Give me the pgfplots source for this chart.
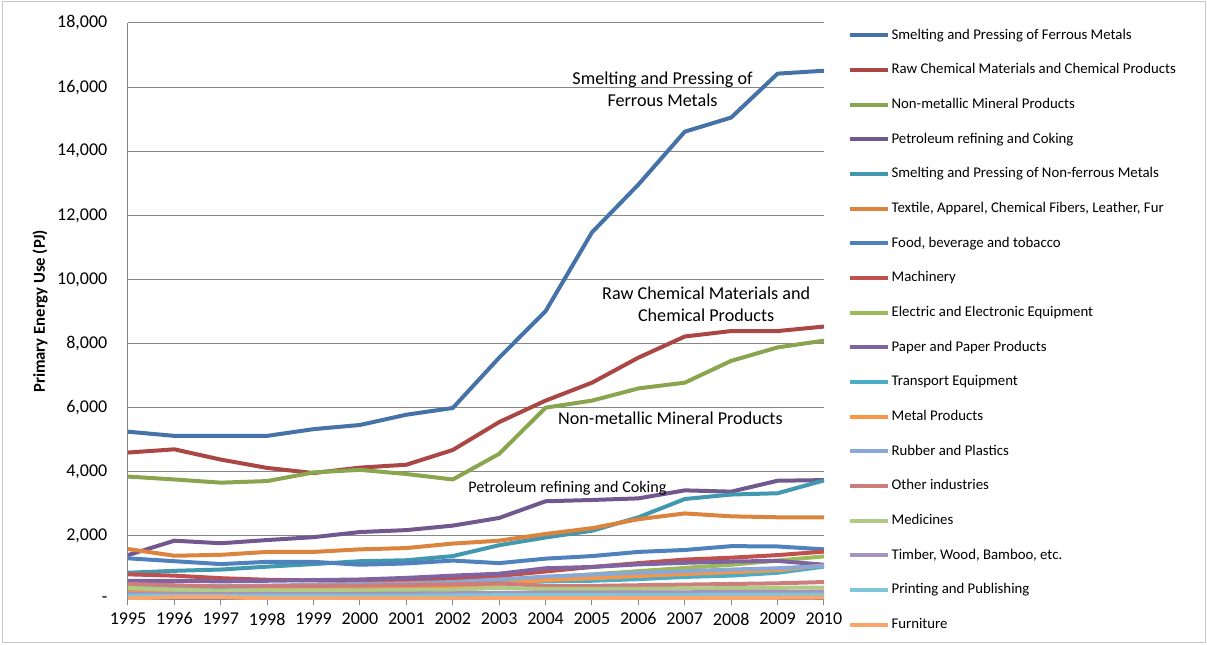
\documentclass[border=0pt]{standalone}
\usepackage{pgfplots}
\pgfplotsset{compat=1.18}
\usepackage{fontspec}
\setmainfont{Carlito}
\definecolor{c1}{HTML}{4572A7}
\definecolor{c2}{HTML}{AA4643}
\definecolor{c3}{HTML}{89A54E}
\definecolor{c4}{HTML}{71588F}
\definecolor{c5}{HTML}{4198AF}
\definecolor{c6}{HTML}{DB843D}
\definecolor{c7}{HTML}{4F81BD}
\definecolor{c8}{HTML}{C0504D}
\definecolor{c9}{HTML}{9BBB59}
\definecolor{c10}{HTML}{8064A2}
\definecolor{c11}{HTML}{4BACC6}
\definecolor{c12}{HTML}{F79646}
\definecolor{c13}{HTML}{8AA8D5}
\definecolor{c14}{HTML}{CD7E7C}
\definecolor{c15}{HTML}{B0CB83}
\definecolor{c16}{HTML}{A594BF}
\definecolor{c17}{HTML}{7FC6DB}
\definecolor{c18}{HTML}{FAA56B}
\definecolor{axgray}{HTML}{868686}
\begin{document}
\begin{tikzpicture}
\path[use as bounding box] (-96pt,-33.75pt) rectangle (809.25pt,450pt);
\draw[gray!45, line width=0.75pt] (-93.75pt,-32.25pt) rectangle (807.75pt,448.5pt);
\begin{axis}[
  name=ax, at={(0,0)}, anchor=south west,
  scale only axis, width=522pt, height=432.75pt,
  xmin=1995, xmax=2010, ymin=0, ymax=18000,
  scaled y ticks=false,
  axis x line*=bottom, axis y line*=left,
  axis line style={axgray, line width=0.75pt, -},
  xtick={1995,...,2010},
  xticklabels={1995,1996,1997,1998,1999,2000,2001,2002,2003,2004,2005,2006,2007,2008,2009,2010},
  ytick={0,2000,...,18000},
  yticklabels={-,{2,000},{4,000},{6,000},{8,000},{10,000},{12,000},{14,000},{16,000},{18,000}},
  major tick length=4pt,
  x tick style={axgray, line width=0.75pt},
  y tick style={draw=none},
  tick align=outside,
  ymajorgrids, grid style={axgray, line width=0.75pt},
  tick label style={font=\fontsize{13.5}{16}\selectfont},
  yticklabel style={xshift=-8pt},
  xticklabel style={yshift=-2pt},
  ylabel={\bfseries Primary Energy Use (PJ)},
  ylabel style={at={(axis description cs:-0.1264,0.5)}, anchor=center, font=\fontsize{12.5}{15}\selectfont},
  every axis plot/.append style={line width=3pt, line join=round, mark=none},
  legend image code/.code={\draw[#1, line width=3pt] (0pt,0pt) -- (28.5pt,0pt);},
  legend style={at={(axis description cs:1,1)}, anchor=north west, xshift=18pt, yshift=-2.5pt,
    draw=none, fill=none, inner sep=0pt, row sep=13pt, column sep=0pt,
    font=\fontsize{11.1}{13}\selectfont,
    nodes={inner sep=1pt, text height=8.5pt, text depth=2.5pt},
    cells={anchor=west}},
]
\addplot[c1] coordinates {(1995,5250)(1996,5120)(1997,5120)(1998,5120)(1999,5330)(2000,5460)(2001,5780)(2002,5990)(2003,7560)(2004,9010)(2005,11470)(2006,12960)(2007,14610)(2008,15050)(2009,16420)(2010,16510)};
\addlegendentry{Smelting and Pressing of Ferrous Metals}
\addplot[c2] coordinates {(1995,4600)(1996,4700)(1997,4380)(1998,4120)(1999,3960)(2000,4130)(2001,4220)(2002,4680)(2003,5550)(2004,6220)(2005,6780)(2006,7560)(2007,8220)(2008,8390)(2009,8390)(2010,8530)};
\addlegendentry{Raw Chemical Materials and Chemical Products}
\addplot[c3] coordinates {(1995,3850)(1996,3760)(1997,3660)(1998,3710)(1999,3980)(2000,4060)(2001,3930)(2002,3760)(2003,4560)(2004,6000)(2005,6220)(2006,6600)(2007,6780)(2008,7460)(2009,7880)(2010,8090)};
\addlegendentry{Non-metallic Mineral Products}
\addplot[c4] coordinates {(1995,1400)(1996,1850)(1997,1770)(1998,1870)(1999,1960)(2000,2120)(2001,2180)(2002,2320)(2003,2560)(2004,3080)(2005,3120)(2006,3170)(2007,3420)(2008,3380)(2009,3720)(2010,3740)};
\addlegendentry{Petroleum refining and Coking}
\addplot[c5] coordinates {(1995,850)(1996,910)(1997,950)(1998,1040)(1999,1120)(2000,1210)(2001,1240)(2002,1370)(2003,1710)(2004,1950)(2005,2160)(2006,2580)(2007,3150)(2008,3290)(2009,3330)(2010,3730)};
\addlegendentry{Smelting and Pressing of Non-ferrous Metals}
\addplot[c6] coordinates {(1995,1590)(1996,1380)(1997,1410)(1998,1500)(1999,1500)(2000,1580)(2001,1620)(2002,1760)(2003,1850)(2004,2060)(2005,2240)(2006,2520)(2007,2700)(2008,2610)(2009,2580)(2010,2580)};
\addlegendentry{Textile, Apparel, Chemical Fibers, Leather, Fur}
\addplot[c7] coordinates {(1995,1300)(1996,1210)(1997,1120)(1998,1190)(1999,1190)(2000,1100)(2001,1140)(2002,1230)(2003,1150)(2004,1290)(2005,1370)(2006,1500)(2007,1560)(2008,1680)(2009,1670)(2010,1580)};
\addlegendentry{Food, beverage and tobacco}
\addplot[c8] coordinates {(1995,800)(1996,760)(1997,680)(1998,630)(1999,610)(2000,590)(2001,620)(2002,660)(2003,750)(2004,890)(2005,1030)(2006,1150)(2007,1260)(2008,1320)(2009,1400)(2010,1510)};
\addlegendentry{Machinery}
\addplot[c9] coordinates {(1995,330)(1996,300)(1997,270)(1998,290)(1999,310)(2000,340)(2001,390)(2002,470)(2003,580)(2004,700)(2005,800)(2006,900)(2007,1000)(2008,1100)(2009,1230)(2010,1360)};
\addlegendentry{Electric and Electronic Equipment}
\addplot[c10] coordinates {(1995,600)(1996,600)(1997,580)(1998,600)(1999,620)(2000,640)(2001,690)(2002,760)(2003,820)(2004,990)(2005,1030)(2006,1110)(2007,1160)(2008,1200)(2009,1220)(2010,1100)};
\addlegendentry{Paper and Paper Products}
\addplot[c11] coordinates {(1995,420)(1996,400)(1997,410)(1998,430)(1999,440)(2000,450)(2001,460)(2002,480)(2003,520)(2004,580)(2005,600)(2006,650)(2007,720)(2008,760)(2009,850)(2010,1040)};
\addlegendentry{Transport Equipment}
\addplot[c12] coordinates {(1995,240)(1996,260)(1997,280)(1998,300)(1999,320)(2000,350)(2001,380)(2002,430)(2003,500)(2004,620)(2005,680)(2006,750)(2007,810)(2008,870)(2009,930)(2010,1080)};
\addlegendentry{Metal Products}
\addplot[c13] coordinates {(1995,460)(1996,430)(1997,430)(1998,450)(1999,470)(2000,500)(2001,520)(2002,560)(2003,640)(2004,730)(2005,790)(2006,850)(2007,900)(2008,950)(2009,990)(2010,1060)};
\addlegendentry{Rubber and Plastics}
\addplot[c14] coordinates {(1995,500)(1996,460)(1997,420)(1998,430)(1999,440)(2000,450)(2001,470)(2002,490)(2003,520)(2004,430)(2005,440)(2006,460)(2007,480)(2008,500)(2009,520)(2010,560)};
\addlegendentry{Other industries}
\addplot[c15] coordinates {(1995,380)(1996,320)(1997,290)(1998,300)(1999,300)(2000,300)(2001,310)(2002,320)(2003,380)(2004,340)(2005,340)(2006,350)(2007,360)(2008,370)(2009,380)(2010,390)};
\addlegendentry{Medicines}
\addplot[c16] coordinates {(1995,200)(1996,190)(1997,180)(1998,180)(1999,180)(2000,190)(2001,200)(2002,210)(2003,220)(2004,230)(2005,230)(2006,240)(2007,240)(2008,250)(2009,250)(2010,260)};
\addlegendentry{Timber, Wood, Bamboo, etc.}
\addplot[c17] coordinates {(1995,140)(1996,130)(1997,130)(1998,120)(1999,120)(2000,130)(2001,130)(2002,140)(2003,150)(2004,150)(2005,150)(2006,160)(2007,160)(2008,170)(2009,170)(2010,170)};
\addlegendentry{Printing and Publishing}
\addplot[c18] coordinates {(1995,50)(1996,90)(1997,90)(1998,50)(1999,50)(2000,50)(2001,50)(2002,50)(2003,60)(2004,60)(2005,60)(2006,70)(2007,70)(2008,70)(2009,70)(2010,80)};
\addlegendentry{Furniture}
\node[align=center, font=\fontsize{13.6}{16.5}\selectfont] at (axis cs:2006.52,15920) {Smelting and Pressing of\\Ferrous Metals};
\node[align=center, font=\fontsize{13.6}{16.5}\selectfont] at (axis cs:2007.46,9220) {Raw Chemical Materials and\\Chemical Products};
\node[font=\fontsize{13.6}{16.5}\selectfont] at (axis cs:2006.69,5670) {Non-metallic Mineral Products};
\node[font=\fontsize{12.1}{14}\selectfont] at (axis cs:2004.47,3490) {Petroleum refining and Coking};
\end{axis}
\end{tikzpicture}
\end{document}
